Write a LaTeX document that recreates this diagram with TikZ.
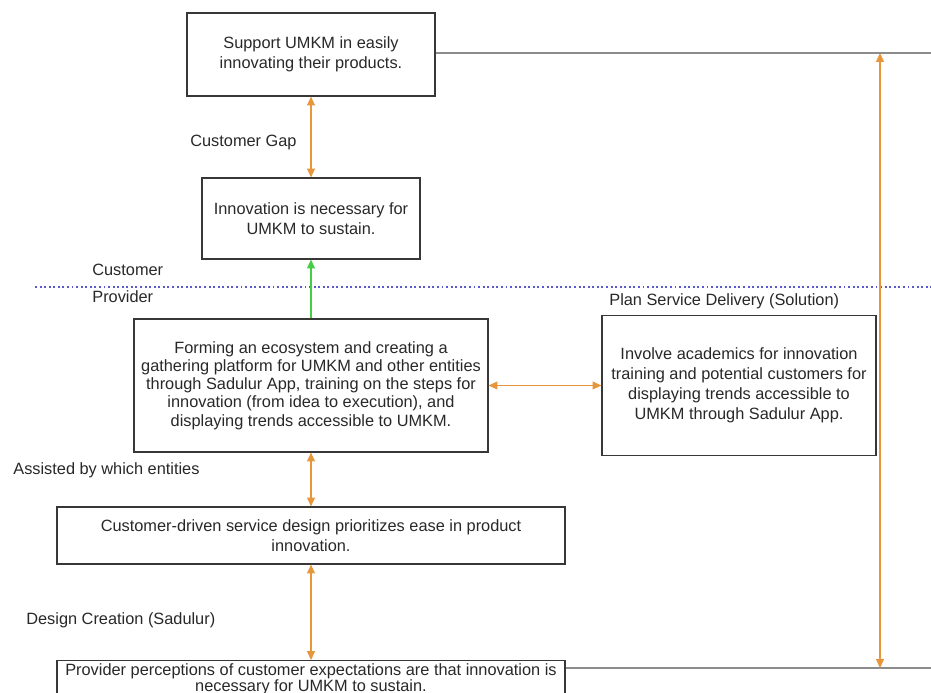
\documentclass[tikz,border=0pt]{standalone}
\usepackage{fontspec}
\setmainfont{Liberation Sans}
\usetikzlibrary{arrows.meta}
\definecolor{boxline}{RGB}{55,55,55}
\definecolor{textgray}{RGB}{40,40,40}
\definecolor{linkorange}{RGB}{232,150,60}
\definecolor{linkgreen}{RGB}{70,205,70}
\definecolor{sideline}{RGB}{140,140,140}
\definecolor{splitblue}{RGB}{90,90,205}
\begin{document}
\begin{tikzpicture}[x=0.02cm,y=-0.02cm,
  font=\fontsize{9.3}{11.4}\selectfont, text=textgray,
  box/.style={draw=boxline,line width=0.7pt,align=center,inner sep=0pt},
  lbl/.style={anchor=west,inner sep=0pt},
  link/.style={linkorange,line width=0.6pt,
    {Triangle[length=5pt,width=4.5pt]}-{Triangle[length=5pt,width=4.5pt]}}]
\useasboundingbox (0,0) rectangle (931,693);

% boxes
\node [box,minimum width=4.96cm,minimum height=1.66cm] (support) at (311,54.5)
  {Support UMKM in easily\\innovating their products.};
\node [box,minimum width=4.36cm,minimum height=1.62cm] (need) at (311,218.5)
  {Innovation is necessary for\\UMKM to sustain.};
\node [box,minimum width=7.08cm,minimum height=2.66cm,
  font=\fontsize{9.3}{10.4}\selectfont] (forming) at (311,385.5)
  {Forming an ecosystem and creating a\\gathering platform for UMKM and other entities\\through Sadulur App, training on the steps for\\innovation (from idea to execution), and\\displaying trends accessible to UMKM.};
\node [box,minimum width=5.48cm,minimum height=2.8cm] (involve) at (739,385.5)
  {Involve academics for innovation\\training and potential customers for\\displaying trends accessible to\\UMKM through Sadulur App.};
\node [box,minimum width=10.16cm,minimum height=1.14cm] (driven) at (311,535.5)
  {Customer-driven service design prioritizes ease in product\\innovation.};
\node [box,anchor=north,minimum width=10.16cm,inner ysep=1.5pt,
  font=\fontsize{9.3}{9.3}\selectfont] (percep) at (311,660)
  {Provider perceptions of customer expectations are that innovation is\\necessary for UMKM to sustain.};

% labels
\node [lbl] (gap) at (190,142) {Customer Gap};
\node [lbl] (cust) at (92,270) {Customer};
\node [lbl] (prov) at (92,297) {Provider};
\node [lbl] (plan) at (609,301) {Plan Service Delivery (Solution)};
\node [lbl] (assist) at (13,470) {Assisted by which entities};
\node [lbl] (design) at (26,620) {Design Creation (Sadulur)};

% customer / provider split
\coordinate (s1) at (35,287);
\coordinate (s2) at (931,287);
\draw [splitblue,line width=0.65pt,dash pattern=on 1.1pt off 1.5pt] (s1) -- (s2);

% side lines
\coordinate (r1) at (931,53);
\coordinate (r2) at (931,668);
\coordinate (a1) at (880,53);
\coordinate (a2) at (880,668);
\draw [sideline,line width=1.1pt] (support.east |- r1) -- (r1);
\draw [sideline,line width=1.1pt] (percep.east |- r2) -- (r2);
\draw [link] (a1) -- (a2);

% links
\draw [link] (support) -- (need);
\draw [linkgreen,line width=0.6pt,-{Triangle[length=5pt,width=4.5pt]}] (forming) -- (need);
\draw [link] (forming) -- (involve);
\draw [link] (forming) -- (driven);
\draw [link] (driven) -- (percep);
\end{tikzpicture}
\end{document}
